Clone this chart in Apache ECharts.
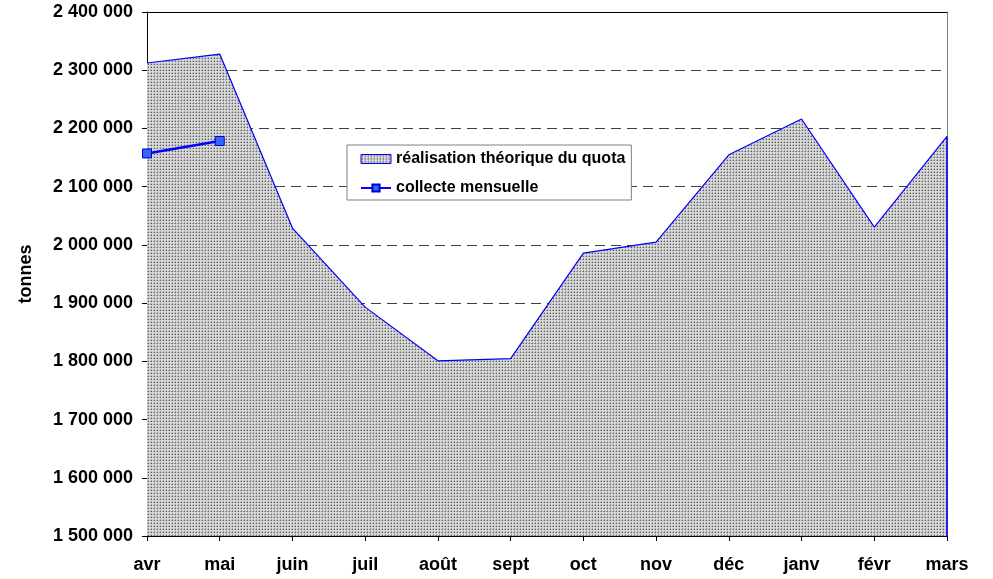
<!DOCTYPE html>
<html>
<head>
<meta charset="utf-8">
<script src="https://cdn.jsdelivr.net/npm/echarts@6/dist/echarts.min.js"></script>
<style>
html,body{margin:0;padding:0;background:#fff;}
#chart{width:993px;height:579px;}
</style>
</head>
<body>
<div id="chart"></div>
<script>
const months = ['avr','mai','juin','juil','août','sept','oct','nov','déc','janv','févr','mars'];
const quota = [2312400, 2327800, 2028900, 1893100, 1800900, 1804800, 1985900, 2004800, 2154800, 2216200, 2030600, 2186300];
const collecte = [2157000, 2178400, null, null, null, null, null, null, null, null, null, null];
const quotaName = 'réalisation théorique du quota';
const collecteName = 'collecte mensuelle';
const yMin = 1500000, yMax = 2400000, yStep = 100000;

function makePattern() {
  const c = document.createElement('canvas');
  c.width = 3; c.height = 3;
  const g = c.getContext('2d');
  g.fillStyle = '#d6d6d6';
  g.fillRect(0, 0, 3, 3);
  g.fillStyle = '#a8a8a8';
  g.fillRect(1, 0, 1, 1);
  g.fillRect(0, 1, 1, 1);
  g.fillStyle = '#5e5e5e';
  g.fillRect(1, 1, 1, 1);
  return c;
}
const pattern = { image: makePattern(), repeat: 'repeat' };
const fmt = v => String(v).replace(/\B(?=(\d{3})+(?!\d))/g, ' ');
const font = 'Liberation Sans, Arial, sans-serif';
const lastIdx = months.length - 1;

const chart = echarts.init(document.getElementById('chart'), null, { renderer: 'canvas' });
chart.setOption({
  animation: false,
  backgroundColor: '#fff',
  textStyle: { fontFamily: font },
  grid: { left: 147, right: 46, top: 12, bottom: 43, containLabel: false },
  legend: {
    orient: 'vertical',
    left: 347, top: 145,
    padding: [5, 6, 3, 13],
    itemGap: 11,
    itemWidth: 30, itemHeight: 9,
    borderColor: '#808080', borderWidth: 1,
    backgroundColor: '#fff',
    textStyle: { fontFamily: font, fontSize: 16, fontWeight: 'bold', color: '#000', lineHeight: 18 },
    data: [
      { name: quotaName, icon: 'rect', itemStyle: { color: pattern, borderColor: '#0000ff', borderWidth: 1 } },
      { name: collecteName }
    ]
  },
  xAxis: [{
    type: 'category',
    data: months,
    boundaryGap: false,
    axisLine: { lineStyle: { color: '#000020', width: 1 } },
    axisTick: { show: true, inside: false, length: 5, lineStyle: { color: '#000' } },
    axisLabel: { fontFamily: font, fontSize: 18, fontWeight: 'bold', color: '#000', margin: 20 },
    splitLine: { show: false }
  }, {
    type: 'category',
    data: months,
    position: 'top',
    boundaryGap: false,
    axisLine: { lineStyle: { color: '#000', width: 1 } },
    axisTick: { show: false },
    axisLabel: { show: false },
    splitLine: { show: false }
  }],
  yAxis: [{
    type: 'value',
    min: yMin, max: yMax, interval: yStep,
    name: 'tonnes',
    nameLocation: 'middle',
    nameGap: 112,
    nameRotate: 90,
    nameTextStyle: { fontFamily: font, fontSize: 18, fontWeight: 'bold', color: '#000' },
    axisLine: { show: true, lineStyle: { color: '#000', width: 1 } },
    axisTick: { show: true, inside: false, length: 5, lineStyle: { color: '#000' } },
    axisLabel: { fontFamily: font, fontSize: 18, fontWeight: 'bold', color: '#000', margin: 14, formatter: fmt },
    splitLine: { show: true, lineStyle: { color: '#404040', type: [10, 6], width: 1 } }
  }, {
    type: 'value',
    position: 'right',
    min: yMin, max: yMax, interval: yStep,
    axisLine: { show: true, lineStyle: { color: '#808080', width: 1 } },
    axisTick: { show: false },
    axisLabel: { show: false },
    splitLine: { show: false }
  }],
  series: [{
    name: quotaName,
    type: 'line',
    data: quota,
    symbol: 'none',
    showSymbol: false,
    lineStyle: { color: '#0000ff', width: 1.2 },
    itemStyle: { color: '#0000ff' },
    areaStyle: { color: pattern, opacity: 1, origin: 'start' },
    z: 2,
    markLine: {
      silent: true,
      symbol: ['none', 'none'],
      label: { show: false },
      lineStyle: { color: '#0000ff', width: 1.5, type: 'solid' },
      data: [[{ coord: [months[lastIdx], quota[lastIdx]] }, { coord: [months[lastIdx], yMin] }]]
    }
  }, {
    name: collecteName,
    type: 'line',
    data: collecte,
    symbol: 'rect',
    symbolSize: 9,
    showSymbol: true,
    connectNulls: false,
    lineStyle: { color: '#0000ff', width: 2.5 },
    itemStyle: { color: '#3366ff', borderColor: '#0000cc', borderWidth: 1 },
    z: 5
  }]
});
</script>
</body>
</html>
